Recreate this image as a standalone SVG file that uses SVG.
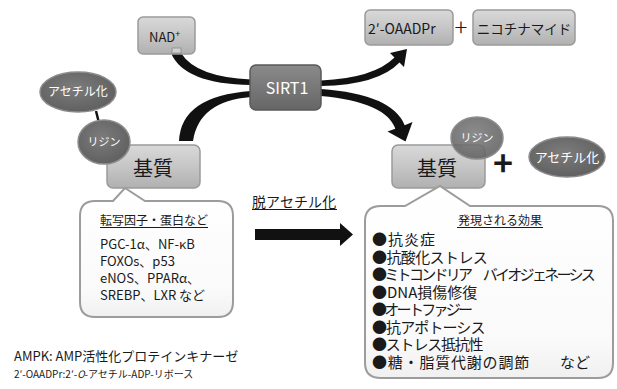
<svg xmlns="http://www.w3.org/2000/svg" width="617" height="389" viewBox="0 0 617 389">
<defs>
<linearGradient id="gLight" x1="0" y1="0" x2="0" y2="1">
<stop offset="0" stop-color="#d9d9d9"/>
<stop offset="0.5" stop-color="#c6c6c6"/>
<stop offset="1" stop-color="#b0b0b0"/>
</linearGradient>
<linearGradient id="gDark" x1="0" y1="0" x2="0" y2="1">
<stop offset="0" stop-color="#8a8a8a"/>
<stop offset="0.5" stop-color="#787878"/>
<stop offset="1" stop-color="#666"/>
</linearGradient>
<radialGradient id="gEll" cx="0.45" cy="0.4" r="0.65">
<stop offset="0" stop-color="#7c7c7c"/>
<stop offset="1" stop-color="#5e5e5e"/>
</radialGradient>
<linearGradient id="gCall" x1="0" y1="0" x2="0" y2="1">
<stop offset="0" stop-color="#ffffff"/>
<stop offset="0.8" stop-color="#fafafa"/>
<stop offset="1" stop-color="#f0f0f0"/>
</linearGradient>
</defs>
<style>
text{font-family:"Noto Sans CJK JP","Noto Sans",sans-serif;fill:#1a1a1a}
.bl{fill:url(#gLight);stroke:#9a9a9a;stroke-width:1.5}
.bd{fill:url(#gDark);stroke:#5a5a5a;stroke-width:1.5}
.el{fill:url(#gEll);stroke:#8c8c8c;stroke-width:1.5}
.wt{fill:#ffffff}
.call{fill:url(#gCall);stroke:#9c9c9c;stroke-width:2}
.con{fill:#111}
.ul{stroke:#1a1a1a;stroke-width:1}
</style>

<g id="connectors">
<path class="con" d="M171,53 Q184,84 251,85 L251,79.5 Q196,77 181,53 Z"/>
<path class="con" d="M179,141 Q181,96 251,91 L251,97 Q199,101 193,141 Z"/>
<path class="con" d="M321,80.5 Q374,78 394.5,57.5 L390,53 L407,49 L404,67 L399.5,62.5 Q378,85 321,86 Z"/>
<path class="con" d="M321,89 Q392,94 404.7,125.2 L412.5,122 L405.5,141.5 L387.5,131.5 L395.3,128.8 Q386,102 321,96 Z"/>
<line x1="96" y1="111" x2="99" y2="123" stroke="#111" stroke-width="2.5"/>
<path class="con" d="M255,229 L340,229 L340,223 L353,234.5 L340,246 L340,240 L255,240 Z"/>
</g>

<g id="nad">
<rect class="bl" x="138" y="17" width="57" height="37" rx="5"/>
<rect x="172" y="48" width="9" height="5" fill="#d0d0d0" stroke="#8a8a8a" stroke-width="0.8"/>
<text x="149" y="42" font-size="13">NAD<tspan font-size="9" dy="-5">+</tspan></text>
</g>

<g id="sirt1">
<rect class="bd" x="250" y="65" width="71" height="45" rx="6"/>
<text class="wt" x="287" y="94" font-size="16" text-anchor="middle">SIRT1</text>
</g>

<g id="oaadpr">
<rect class="bl" x="365" y="10" width="88" height="35" rx="5"/>
<text x="368" y="34" font-size="14">2′-OAADPr</text>
</g>
<text x="461" y="36" font-size="24" text-anchor="middle" font-weight="300">+</text>
<g id="nicotinamide">
<rect class="bl" x="473" y="10" width="102" height="35" rx="5"/>
<text x="524" y="34" font-size="13.5" text-anchor="middle">ニコチナマイド</text>
</g>

<g id="acetyl-left">
<ellipse class="el" cx="78" cy="92" rx="38" ry="20"/>
<text class="wt" x="78" y="96" font-size="12" text-anchor="middle">アセチル化</text>
</g>
<g id="substrate-left">
<rect class="bl" x="107" y="145" width="93" height="43" rx="6"/>
<text x="153" y="176" font-size="20" text-anchor="middle">基質</text>
</g>
<g id="lysine-left">
<ellipse class="el" cx="104" cy="142" rx="26" ry="22"/>
<text class="wt" x="104" y="146" font-size="11" text-anchor="middle">リジン</text>
</g>

<g id="substrate-right">
<rect class="bl" x="392" y="145" width="93" height="43" rx="6"/>
<text x="437" y="176" font-size="20" text-anchor="middle">基質</text>
</g>
<g id="lysine-right">
<ellipse class="el" cx="477" cy="138" rx="26" ry="21" fill-opacity="0.88"/>
<text class="wt" x="477" y="142" font-size="11" text-anchor="middle">リジン</text>
</g>
<text x="503" y="176" font-size="34" font-weight="bold" text-anchor="middle">+</text>
<g id="acetyl-right">
<ellipse class="el" cx="567" cy="157" rx="38" ry="20"/>
<text class="wt" x="567" y="162" font-size="13" text-anchor="middle">アセチル化</text>
</g>

<g id="label-deacetyl">
<text x="252" y="207" font-size="14" letter-spacing="0.1">脱アセチル化</text>
<line class="ul" x1="252" y1="209.5" x2="337" y2="209.5"/>
</g>

<g id="callout-left">
<path class="call" d="M95,201 L113,201 L125,188 L145,201 L218,201 Q233,201 233,216 L233,302 Q233,317 218,317 L95,317 Q80,317 80,302 L80,216 Q80,201 95,201 Z"/>
<text x="100" y="225" font-size="12">転写因子・蛋白など</text>
<line class="ul" x1="100" y1="227.5" x2="208" y2="227.5"/>
<text font-size="13"><tspan x="100" y="249">PGC-1α、NF-κB</tspan><tspan x="100" y="266">FOXOs、p53</tspan><tspan x="100" y="283">eNOS、PPARα、</tspan><tspan x="100" y="300">SREBP、LXR など</tspan></text>
</g>

<g id="callout-right">
<path class="call" d="M381,206 L405,206 L440,186 L470,206 L598,206 Q613,206 613,221 L613,363 Q613,378 598,378 L381,378 Q365,378 365,363 L365,221 Q365,206 381,206 Z"/>
<text x="500" y="225" font-size="12" text-anchor="middle">発現される効果</text>
<line class="ul" x1="457" y1="227.5" x2="543" y2="227.5"/>
<text font-size="15"><tspan x="372" y="245" letter-spacing="1">●抗炎症</tspan><tspan x="372" y="262.5" letter-spacing="-0.6">●抗酸化ストレス</tspan><tspan x="372" y="280" letter-spacing="-2.7">●ミトコンドリア　バイオジェネーシス</tspan><tspan x="372" y="297.5" letter-spacing="0">●DNA損傷修復</tspan><tspan x="372" y="315" letter-spacing="-2.7">●オートファジー</tspan><tspan x="372" y="332.5" letter-spacing="-0.9">●抗アポトーシス</tspan><tspan x="372" y="350" letter-spacing="-1.2">●ストレス抵抗性</tspan><tspan x="372" y="367.5" letter-spacing="0.8">●糖・脂質代謝の調節</tspan><tspan x="560" y="367.5" letter-spacing="0">など</tspan></text>
</g>

<g id="legend">
<text x="14" y="361" font-size="13">AMPK: AMP活性化プロテインキナーゼ</text>
<text x="14" y="378" font-size="10">2′-OAADPr:2′-<tspan font-style="italic">O</tspan>-アセチル-ADP-リボース</text>
</g>
</svg>
